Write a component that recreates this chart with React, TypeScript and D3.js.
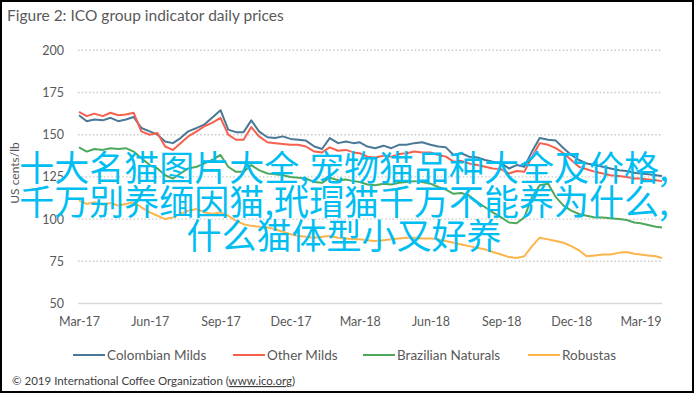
import React, { useEffect, useRef } from "react";
import * as d3 from "d3";

// sample dates (1st, 11th, 21st of each month)
const dates = [
  "2017-03-01", "2017-03-11", "2017-03-21", "2017-04-01", "2017-04-11", "2017-04-21",
  "2017-05-01", "2017-05-11", "2017-05-21", "2017-06-01", "2017-06-11", "2017-06-21",
  "2017-07-01", "2017-07-11", "2017-07-21", "2017-08-01", "2017-08-11", "2017-08-21",
  "2017-09-01", "2017-09-11", "2017-09-21", "2017-10-01", "2017-10-11", "2017-10-21",
  "2017-11-01", "2017-11-11", "2017-11-21", "2017-12-01", "2017-12-11", "2017-12-21",
  "2018-01-01", "2018-01-11", "2018-01-21", "2018-02-01", "2018-02-11", "2018-02-21",
  "2018-03-01", "2018-03-11", "2018-03-21", "2018-04-01", "2018-04-11", "2018-04-21",
  "2018-05-01", "2018-05-11", "2018-05-21", "2018-06-01", "2018-06-11", "2018-06-21",
  "2018-07-01", "2018-07-11", "2018-07-21", "2018-08-01", "2018-08-11", "2018-08-21",
  "2018-09-01", "2018-09-11", "2018-09-21", "2018-10-01", "2018-10-11", "2018-10-21",
  "2018-11-01", "2018-11-11", "2018-11-21", "2018-12-01", "2018-12-11", "2018-12-21",
  "2019-01-01", "2019-01-11", "2019-01-21", "2019-02-01", "2019-02-11", "2019-02-21",
  "2019-03-01", "2019-03-11", "2019-03-21", "2019-03-29",
];

const colombianMilds = [
  161.5, 158, 159, 158.5, 160, 158, 159, 160.5, 154, 152, 150, 146,
  145, 148, 152, 154, 156, 160, 164.5, 153, 151.5, 151.5, 158.5, 152,
  148.5, 148, 149, 147.5, 147, 146.5, 143, 141.5, 148, 145, 146, 145,
  145.5, 143, 142, 143.5, 142, 144, 144, 145, 145.5, 144, 143, 142.5,
  138, 139, 137, 136.5, 135, 134, 133, 130, 132, 131, 140, 148,
  147, 146.5, 142, 138, 135, 133, 132, 131, 130, 129, 128.5, 127.5,
  127, 126.5, 126, 125.5,
];

const otherMilds = [
  163.5, 161, 162.5, 161, 163, 161.5, 162, 163, 152, 150, 151, 143,
  141, 145, 149, 152, 155, 157, 160, 150, 147, 147, 154.5, 149,
  145.5, 145, 144.5, 144, 144, 143, 140, 139.5, 142.5, 140.5, 141, 139.5,
  139, 137, 136.5, 137.5, 137, 138.5, 139, 140, 139.5, 139.5, 138, 137,
  134, 134.5, 133, 132, 131, 130, 129.5, 127, 128.5, 128, 137, 145,
  144, 142, 139, 135, 131, 129.5, 128, 127, 126, 125.5, 125, 124,
  124, 123.5, 123, 122.5,
];

const brazilianNaturals = [
  142.5, 140, 141.5, 141, 142, 141.5, 142, 140, 136, 132, 130, 126,
  124, 127, 130, 131, 133, 135, 138, 131, 128, 128, 132, 129,
  127, 126.5, 126, 125, 124.5, 124, 122, 121.5, 124.5, 123, 123.5, 122.5,
  122, 120.5, 120, 121, 120.5, 121.5, 122, 122.5, 122, 121, 119, 117.5,
  115, 115.5, 114, 110, 107, 104, 101, 98, 97.5, 101, 113, 120,
  121, 113, 108, 105, 103, 102, 101, 101, 100.5, 100, 99.5, 98,
  97.5, 96.5, 95.5, 95,
];

const robustas = [
  111, 109, 110, 108.5, 109.5, 108, 109, 110, 107, 104, 102, 100,
  101, 103, 105, 106, 104, 103, 104, 102, 99, 97, 96, 95.5,
  95, 94, 92.5, 91, 90, 89.5, 89, 89.5, 90, 89, 88.5, 88,
  88, 87.5, 87, 87.5, 88, 88.5, 89, 89, 88.5, 88.5, 88, 87,
  86, 85, 84, 83, 82, 80.5, 79, 77.5, 77, 78, 84, 89,
  88, 87, 86, 84, 81.5, 78, 78.5, 79, 79, 80, 80.5, 79.5,
  79, 78.5, 78, 77,
];

const seriesNames = ["Colombian Milds", "Other Milds", "Brazilian Naturals", "Robustas"];
const seriesColors = ["#4a7896", "#f7604c", "#4ea85c", "#fdb44b"];
const seriesValues = [colombianMilds, otherMilds, brazilianNaturals, robustas];

const yTicks = [50, 75, 100, 125, 150, 175, 200];
const xTickDates = [
  "2017-03-01", "2017-06-01", "2017-09-01", "2017-12-01", "2018-03-01",
  "2018-06-01", "2018-09-01", "2018-12-01", "2019-03-01",
];

const overlayLines = [
  "十大名猫图片大全,宠物猫品种大全及价格,",
  "千万别养缅因猫,玳瑁猫千万不能养为什么,",
  "什么猫体型小又好养",
];

const App = () => {
  const chartRef = useRef<SVGSVGElement>(null);

  useEffect(() => {
    document.body.style.margin = "0";
    const width = 695;
    const height = 394;
    const font = "Lato, 'Open Sans', sans-serif";
    const textColor = "#595959";
    const parse = d3.timeParse("%Y-%m-%d");

    const xScale = d3
      .scaleTime()
      .domain([parse("2017-03-01")!, parse("2019-03-29")!])
      .range([79, 662]);
    const yScale = d3.scaleLinear().domain([50, 200]).range([303.5, 50.3]);

    const svg = d3.select(chartRef.current).attr("width", width).attr("height", height);
    svg.selectAll("*").remove();

    svg.append("rect").attr("width", width).attr("height", height).attr("fill", "#fff");

    // title
    svg
      .append("text")
      .attr("x", 7)
      .attr("y", 21)
      .attr("font-family", font)
      .attr("font-size", 15.5)
      .attr("fill", textColor)
      .text("Figure 2: ICO group indicator daily prices");

    // gridlines
    svg
      .append("g")
      .selectAll("line")
      .data(yTicks)
      .join("line")
      .attr("x1", 78)
      .attr("x2", 662)
      .attr("y1", (d) => yScale(d))
      .attr("y2", (d) => yScale(d))
      .attr("stroke", (d) => (d === 50 ? "#d9d9d9" : "#c9c9c9"))
      .attr("stroke-width", (d) => (d === 50 ? 1.5 : 1.4))
      .attr("stroke-dasharray", (d) => (d === 50 ? null : "1.5,2.2"));

    // y axis
    const yAxis = svg
      .append("g")
      .attr("transform", "translate(78,0)")
      .call(d3.axisLeft(yScale).tickValues(yTicks).tickSize(0).tickPadding(14));
    yAxis.select(".domain").remove();
    yAxis
      .selectAll("text")
      .attr("font-family", font)
      .attr("font-size", 12.5)
      .attr("fill", textColor);

    // x axis
    const xAxis = svg
      .append("g")
      .attr("transform", `translate(0,${yScale(50)})`)
      .call(
        d3
          .axisBottom(xScale)
          .tickValues(xTickDates.map((d) => parse(d)!))
          .tickFormat(d3.timeFormat("%b-%y") as any)
          .tickSize(0)
          .tickPadding(14)
      );
    xAxis.select(".domain").remove();
    xAxis
      .selectAll("text")
      .attr("font-family", font)
      .attr("font-size", 12.5)
      .attr("fill", textColor);

    svg
      .append("text")
      .attr("transform", "translate(19,173) rotate(-90)")
      .attr("text-anchor", "middle")
      .attr("font-family", font)
      .attr("font-size", 12)
      .attr("fill", textColor)
      .text("US cents/lb");

    // lines
    const line = d3
      .line<number>()
      .x((_, i) => xScale(parse(dates[i])!))
      .y((d) => yScale(d));

    seriesValues.forEach((values, i) => {
      svg
        .append("path")
        .datum(values)
        .attr("fill", "none")
        .attr("stroke", seriesColors[i])
        .attr("stroke-width", 2)
        .attr("stroke-linejoin", "round")
        .attr("d", line);
    });

    // legend
    const legendX = [73, 233, 363, 528];
    const legend = svg
      .append("g")
      .selectAll("g")
      .data(seriesNames)
      .join("g")
      .attr("transform", (_, i) => `translate(${legendX[i]},355)`);
    legend
      .append("line")
      .attr("x1", 0)
      .attr("x2", 32)
      .attr("stroke", (_, i) => seriesColors[i])
      .attr("stroke-width", 2);
    legend
      .append("text")
      .attr("x", 34)
      .attr("dy", "0.35em")
      .attr("font-family", font)
      .attr("font-size", 13.5)
      .attr("fill", textColor)
      .text((d) => d);

    // footer
    const footer = svg
      .append("text")
      .attr("x", 12)
      .attr("y", 385)
      .attr("font-family", font)
      .attr("font-size", 11.5)
      .attr("fill", "#404040");
    footer.append("tspan").text("© 2019 International Coffee Organization (");
    footer.append("tspan").attr("text-decoration", "underline").text("www.ico.org");
    footer.append("tspan").text(")");

    // overlay text
    svg
      .append("g")
      .selectAll("text")
      .data(overlayLines)
      .join("text")
      .attr("x", 344)
      .attr("y", (_, i) => 181 + i * 34)
      .attr("text-anchor", "middle")
      .attr("font-family", "'Noto Sans CJK SC', sans-serif")
      .attr("font-size", 35)
      .attr("fill", "#00bdf2")
      .text((d) => d);

    // border
    svg
      .append("rect")
      .attr("x", 1)
      .attr("y", 1)
      .attr("width", width - 3)
      .attr("height", height - 3)
      .attr("fill", "none")
      .attr("stroke", "#000")
      .attr("stroke-width", 2);
  }, []);

  return (
    <div style={{ width: 695, height: 394 }}>
      <svg ref={chartRef} style={{ display: "block" }}></svg>
    </div>
  );
};

export default App;
